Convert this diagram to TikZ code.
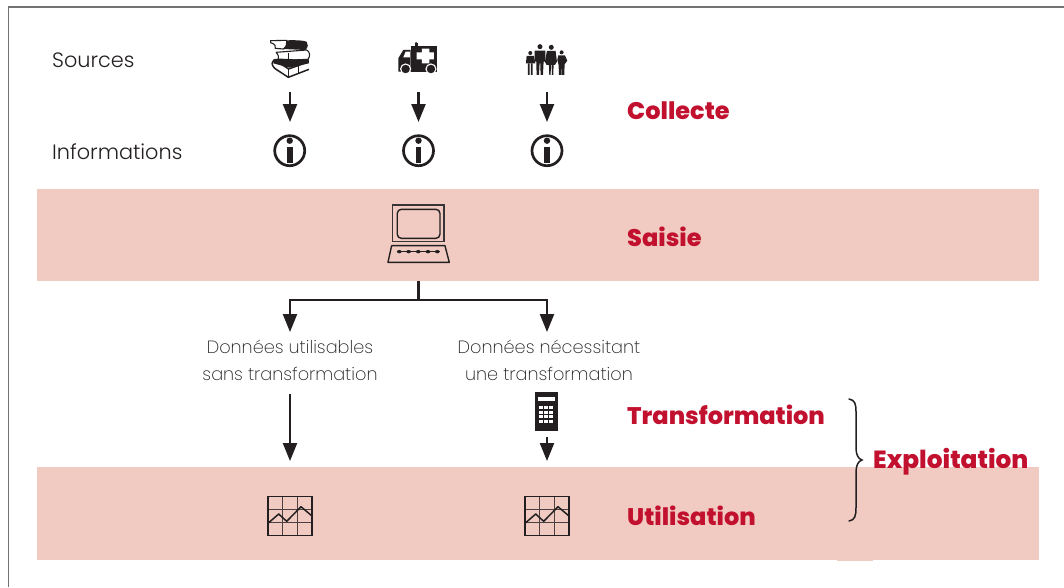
\documentclass[tikz,border=0pt]{standalone}
\usepackage{fontspec}
\setmainfont{Poppins Light}
\newfontfamily\hvy{Poppins ExtraBold}
\newfontfamily\thin{Poppins ExtraLight}
\usetikzlibrary{arrows.meta,calc}
\definecolor{band}{HTML}{F1CBC1}
\definecolor{crim}{HTML}{C2102F}
\definecolor{ink}{HTML}{231F20}
\tikzset{
 lab/.style={inner sep=0pt,anchor=west,text=ink,font=\fontsize{20.8}{25}\selectfont},
 sublab/.style={inner sep=0pt,align=center,text=ink,font=\thin\fontsize{17.7}{27}\selectfont},
 phase/.style={inner sep=0pt,anchor=west,text=crim,font=\hvy\fontsize{24}{28}\selectfont},
 flow/.style={draw=ink,line width=2.3pt,-{Triangle[length=18pt,width=14pt]}},
 trunk/.style={draw=ink,line width=2.3pt},
}
\newcommand{\infoicon}[1]{%
 \draw[ink,line width=2.7pt] (#1) circle (15);
 \fill[ink] ($(#1)+(0,-10)$) circle (3.2);
 \fill[ink] ($(#1)+(-2.8,-4)$) rectangle ($(#1)+(2.8,12.5)$);
}
\newcommand{\charticon}[1]{%
 \begin{scope}[shift={(#1)}]
 \draw[ink,line width=.8pt,draw opacity=.8] (-22,-6.7)--(22,-6.7) (-22,6.7)--(22,6.7) (-7.3,-19.3)--(-7.3,19.3) (7.3,-19.3)--(7.3,19.3);
 \draw[ink,line width=1.3pt] (-22,-19.3) rectangle (22,19.3);
 \draw[ink,line width=1.5pt,line join=round] (-22,7.3) -- (-11.3,-2) -- (-3.3,5.3) -- (11,-9.3) -- (22,0);
 \end{scope}}
\begin{document}
\begin{tikzpicture}[x=1pt,y=-1pt]
\useasboundingbox (0,0) rectangle (1064,587);
\fill[white] (0,0) rectangle (1064,587);
\draw[black!55,line width=1.5pt] (8.5,587) -- (8.5,7) -- (1064,7);
\fill[band] (37,189) rectangle (1039,281);
\fill[band] (37,467) rectangle (1039,560);
\fill[band] (837,560) rectangle (873,561);
\node[lab] (sources) at (52,60) {Sources};
\node[lab] (infos) at (52,152) {Informations};
% books
\begin{scope}[x=.3333pt,y=-.3333pt,shift={(720,60)}]
 \fill[ink] (140,61) .. controls (165,60) and (190,61) .. (200,65) .. controls (206,72) and (205,82) .. (196,90) -- (130,87) .. controls (140,80) and (142,70) .. (140,61);
 \draw[ink,line width=1.1pt] (92,62) -- (140,61) .. controls (142,70) and (140,80) .. (130,87) -- (106,85) .. controls (108,80) and (106,72) .. (92,68) -- cycle;
 \draw[ink,line width=1.1pt] (108,97) -- (200,90) .. controls (210,95) and (212,108) .. (204,118) -- (112,122) .. controls (118,112) and (116,104) .. (108,97);
 \draw[ink,line width=1.1pt] (145,98) -- (145,120);
 \fill[ink] (100,118) .. controls (125,112) and (170,122) .. (207,118) -- (207,130) -- (148,143) -- (100,130) -- cycle;
 \draw[ink,line width=1.5pt,line join=round] (207,148) -- (145,172) -- (104,145) .. controls (94,135) and (94,125) .. (104,120) -- (146,147) -- (207,125);
 \draw[ink,line width=1pt] (145,147) -- (145,172) (175,136) -- (175,160);
\end{scope}
% ambulance
\begin{scope}[x=.3333pt,y=-.3333pt,shift={(720,60)}]
 \fill[ink] (512,78) rectangle (592,155);
 \fill[ink] (475,155) -- (475,115) -- (490,90) -- (512,90) -- (512,155) -- cycle;
 \fill[ink] (524,68) rectangle (533,78);
 \fill[ink] (528.5,70) circle (4);
 \fill[white] (490,112) -- (497,95) -- (510,95) -- (510,112) -- cycle;
 \fill[white] (546,86) rectangle (568,97) (530,97) rectangle (582,118) (546,118) rectangle (568,130);
 \draw[white,line width=1.1pt,fill=ink] (497,147) circle (15);
 \draw[white,line width=1.1pt,fill=ink] (573,147) circle (15);
\end{scope}
% family
\begin{scope}[x=.3333pt,y=-.3333pt,shift={(720,60)}]
 \foreach \x/\hy/\r in {871/99/6,900/80/7.5,934/82/7.5,965/97/6}{\fill[ink] (\x,\hy) circle (\r);}
 \fill[ink] (860,108) -- (882,108) -- (886,130) -- (858,130) -- cycle;
 \fill[ink] (864,130) rectangle (869,165) (873,130) rectangle (878,165);
 \fill[ink] (884,92) -- (916,92) -- (916,125) -- (911,125) -- (909,165) -- (902,165) -- (901,130) -- (899,130) -- (897,165) -- (890,165) -- (889,125) -- (884,125) -- cycle;
 \fill[ink] (921,93) -- (947,93) -- (951,125) -- (945,135) -- (941,135) -- (940,165) -- (936,165) -- (935,135) -- (933,135) -- (932,165) -- (928,165) -- (927,135) -- (920,135) -- (915,125) -- cycle;
 \fill[ink] (955,106) -- (975,106) -- (982,122) -- (974,133) -- (973,165) -- (966,165) -- (965,135) -- (964,165) -- (957,165) -- (956,135) -- (952,120) -- cycle;
\end{scope}
\coordinate (a1) at (290,92); \coordinate (a1e) at (290,122);
\coordinate (a2) at (418.5,92); \coordinate (a2e) at (418.5,122);
\coordinate (a3) at (547,92); \coordinate (a3e) at (547,122);
\draw[flow] (a1) -- (a1e);
\draw[flow] (a2) -- (a2e);
\draw[flow] (a3) -- (a3e);
\coordinate (i1) at (289.7,150.7); \coordinate (i2) at (418.5,150.7); \coordinate (i3) at (547,150.7);
\infoicon{i1} \infoicon{i2} \infoicon{i3}
\node[phase] (collecte) at (627,111) {Collecte};
\node[phase] (saisie) at (627,237) {Saisie};
\node[phase] (transfo) at (627,415) {Transformation};
\node[phase] (util) at (627,516) {Utilisation};
\node[phase,font=\hvy\fontsize{24.8}{28}\selectfont] (expl) at (873,462) {Exploitation};
% laptop
\begin{scope}[x=.3333pt,y=-.3333pt,shift={(1080,570)}]
 \draw[ink!90,line width=1.4pt] (98,45) rectangle (252,155);
 \draw[ink,line width=1.4pt,rounded corners=4pt] (112,58) rectangle (240,145);
 \draw[ink,line width=1.4pt,line join=round] (95,167) -- (255,167) -- (268,217) -- (84,217) -- cycle;
 \draw[ink,line width=1.2pt] (110,185) -- (240,185);
 \foreach \x in {118,146,175,204,232}{\fill[ink] (\x,185) ellipse (7 and 5);}
\end{scope}
% split
\coordinate (top) at (418.5,281);
\coordinate (junc) at (418.5,300);
\coordinate (left) at (290,300);
\coordinate (right) at (547,300);
\coordinate (le) at (290,332);
\coordinate (re) at (547,332);
\draw[trunk] (top) -- (junc);
\draw[flow] (junc) -- (left) -- (le);
\draw[flow] (junc) -- (right) -- (re);
\node[sublab] (dus) at (290,360.5) {Données utilisables\\sans transformation};
\node[sublab] (dnt) at (549,360.5) {Données nécessitant\\une transformation};
\coordinate (l2) at (290,394); \coordinate (l2e) at (290,461);
\draw[flow] (l2) -- (l2e);
\coordinate (r2) at (547,437); \coordinate (r2e) at (547,461);
\draw[flow] (r2) -- (r2e);
% calculator
\begin{scope}[shift={(546.5,411)}]
 \fill[ink] (-11.5,-19.5) rectangle (11.5,19.5);
 \fill[white] (-8.5,-14.5) rectangle (8.5,-10.5);
 \foreach \i in {0,1,2}\foreach \j in {0,1,2,3}{
  \fill[white] (-7.5+\i*5,-5+\j*4.6) rectangle (-4+\i*5,-2+\j*4.6);}
\end{scope}
\coordinate (c1) at (290,516); \coordinate (c2) at (547,516);
\charticon{c1} \charticon{c2}
% brace
\draw[ink,line width=1.5pt,line cap=round] (849,399) .. controls (855,400) and (856,404) .. (856,412) -- (856,448) .. controls (856,454) and (858,459) .. (862,460) .. controls (858,461) and (856,466) .. (856,472) -- (856,507) .. controls (856,516) and (855,520) .. (849,521);
\end{tikzpicture}
\end{document}
